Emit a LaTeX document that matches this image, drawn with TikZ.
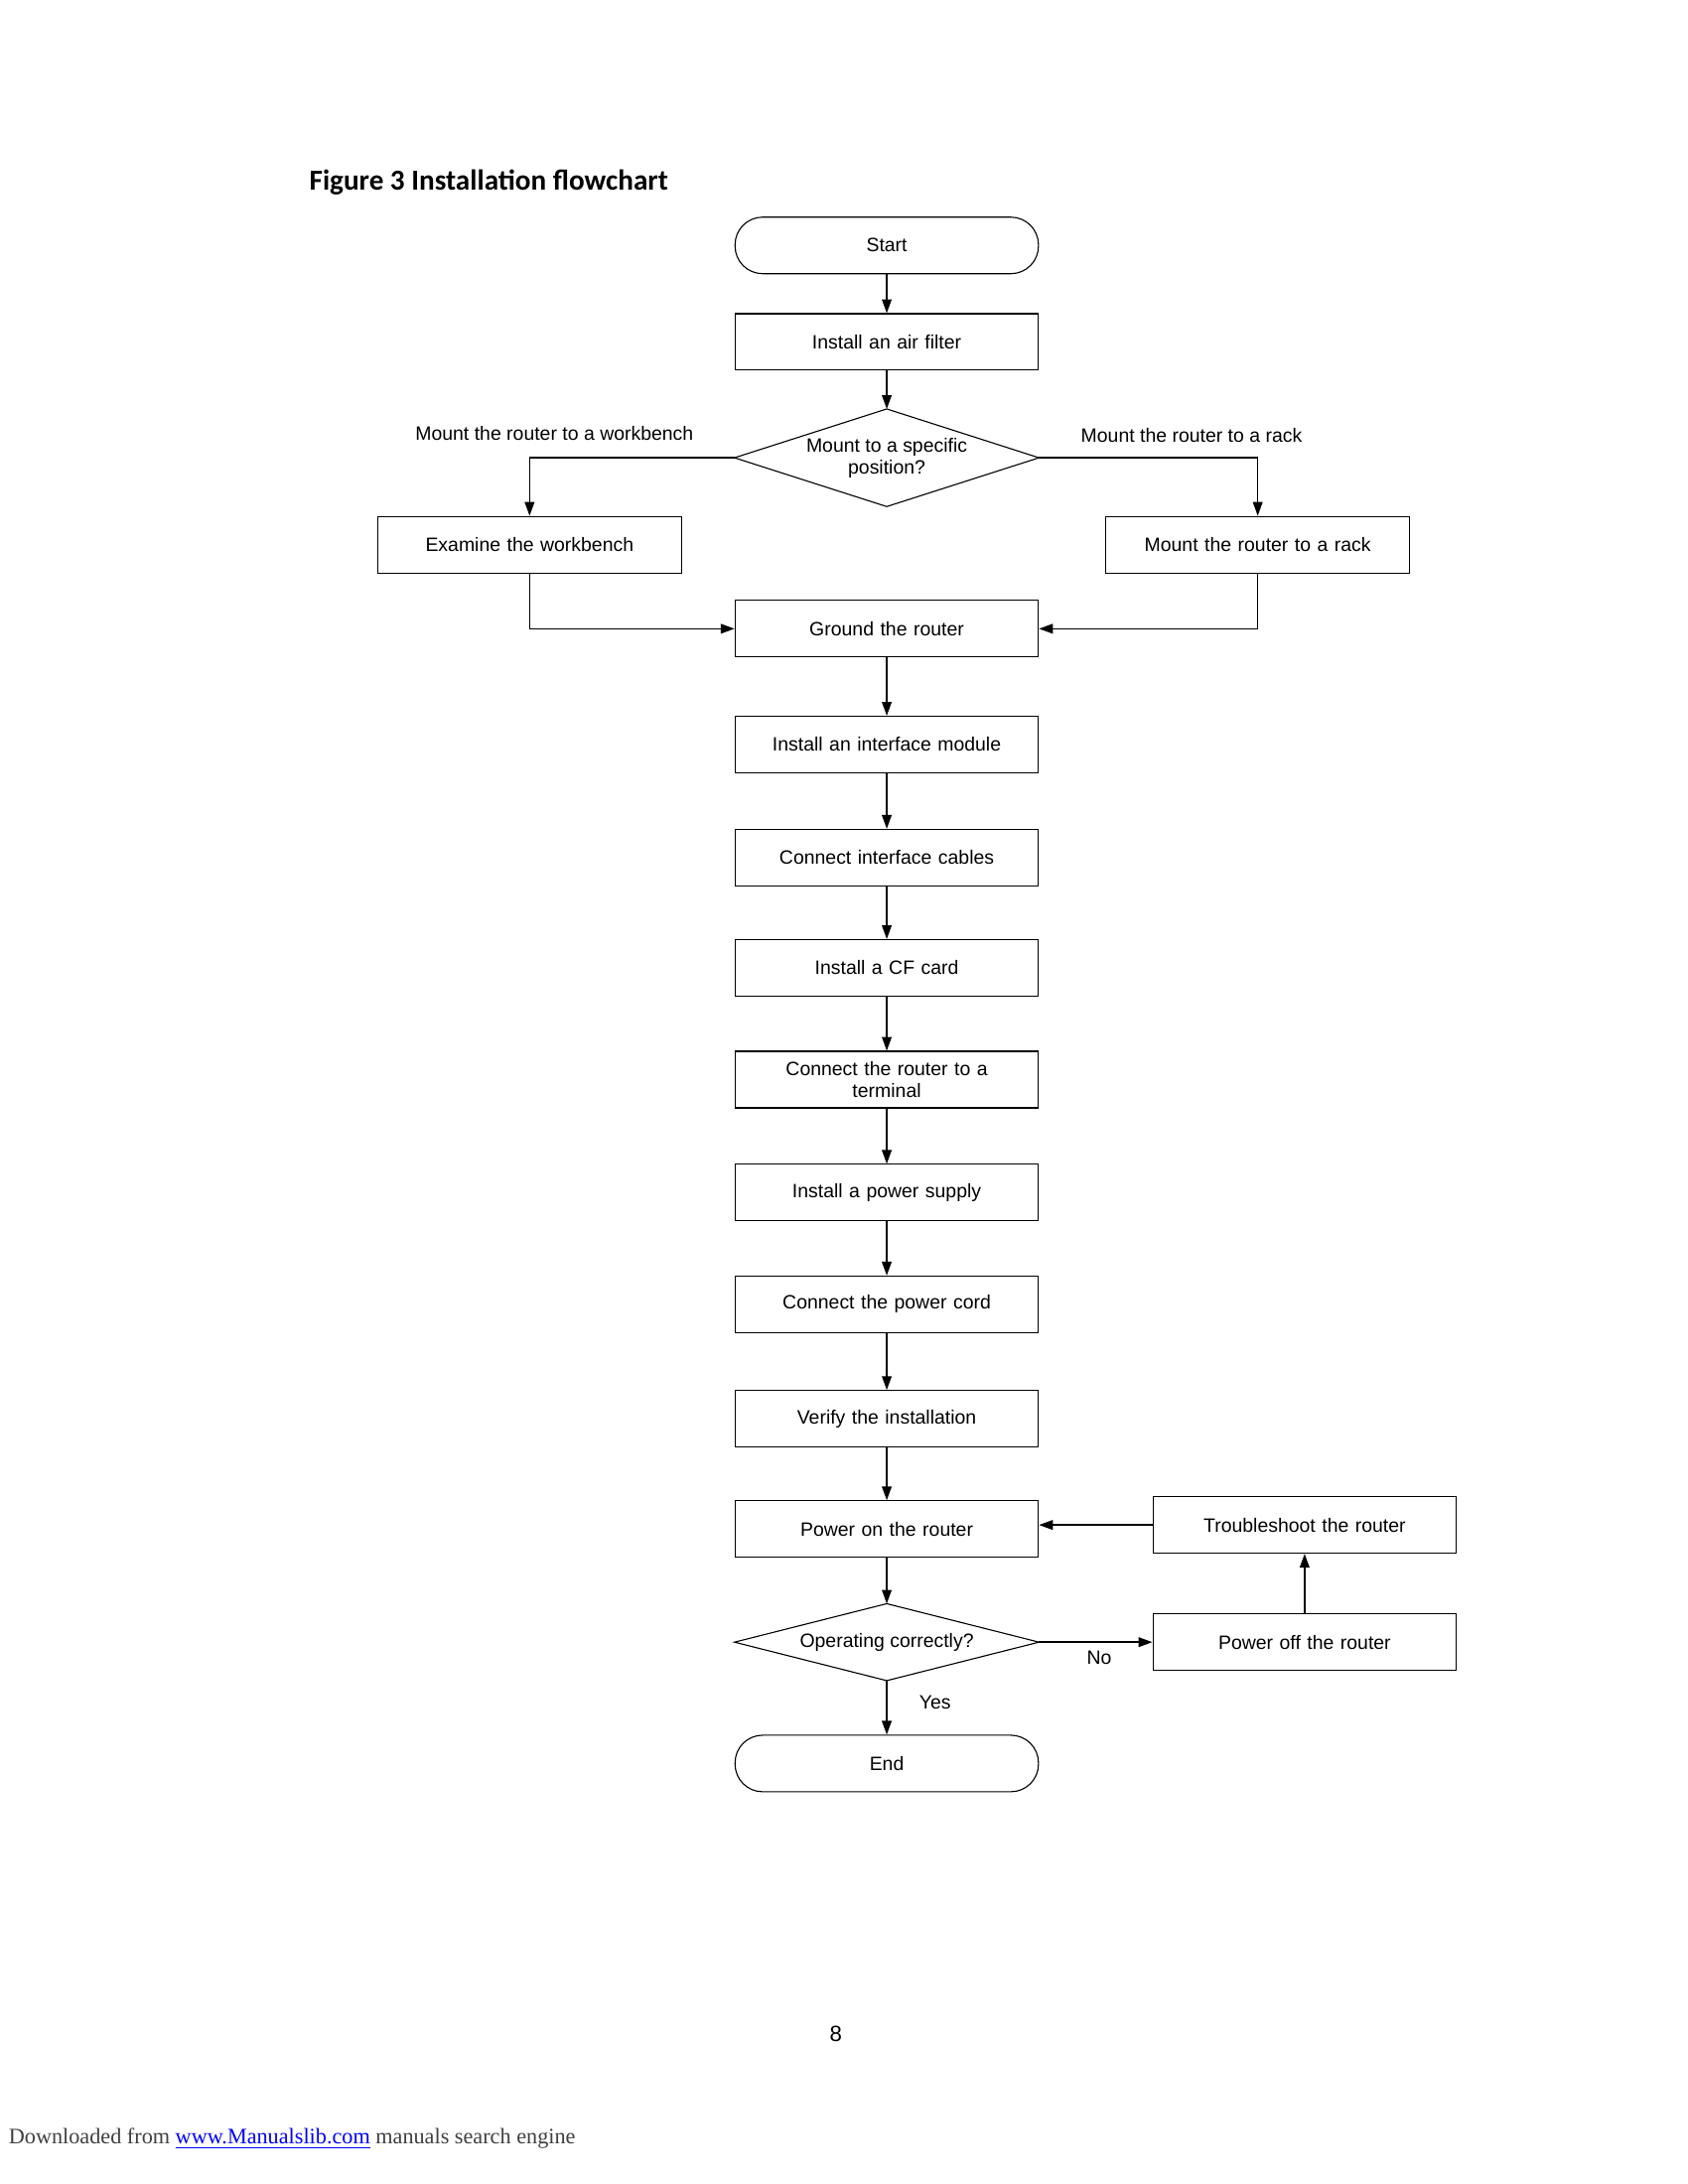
\documentclass[tikz,border=0pt]{standalone}
\usepackage{fontspec}
\setmainfont{Liberation Sans}
\newfontfamily\titlefont{Carlito}
\newfontfamily\footfont{Liberation Serif}
\usetikzlibrary{shapes.geometric,arrows.meta}
\begin{document}
\begin{tikzpicture}[x=0.5pt,y=-0.5pt,
  box/.style={draw,line width=0.4pt,minimum width=110pt,minimum height=20.5pt,inner sep=1pt,font=\fontsize{7}{8}\selectfont,align=center,text width=105pt},
  term/.style={box,rounded corners=10pt},
  dia/.style={inner sep=0pt,minimum width=110pt,font=\fontsize{7}{8}\selectfont,align=center},
  dline/.style={line width=0.4pt},
  lbl/.style={font=\fontsize{7}{8}\selectfont,inner sep=0pt},
  arr/.style={-{Triangle[length=5pt,width=3.5pt]},line width=0.5pt}]
\useasboundingbox (0,0) rectangle (1224,1584);
\node[anchor=west,font=\titlefont\bfseries\fontsize{10.5}{12}\selectfont,inner sep=0pt] (title) at (224,132) {Figure 3 Installation flowchart};
\node[term] (start) at (643,178) {Start};
\node[box] (air) at (643,248) {Install an air filter};
\node[dia,minimum height=35pt] (pos) at (643,332) {Mount to a specific\\position?};
\draw[dline] (pos.west)--(pos.north)--(pos.east)--(pos.south)--cycle;
\node[box] (wb) at (384,395) {Examine the workbench};
\node[box] (rack) at (912,395) {Mount the router to a rack};
\node[box] (gnd) at (643,456) {Ground the router};
\node[box] (ifm) at (643,540) {Install an interface module};
\node[box] (cab) at (643,622) {Connect interface cables};
\node[box] (cf) at (643,702) {Install a CF card};
\node[box] (term) at (643,783) {Connect the router to a\\terminal};
\node[box] (ps) at (643,865) {Install a power supply};
\node[box] (cord) at (643,946) {Connect the power cord};
\node[box] (ver) at (643,1029) {Verify the installation};
\node[box] (pon) at (643,1109) {Power on the router};
\node[dia,minimum height=27.5pt] (ok) at (643,1191) {Operating correctly?};
\draw[dline] (ok.west)--(ok.north)--(ok.east)--(ok.south)--cycle;
\node[term] (end) at (643,1279) {End};
\node[box] (tr) at (946,1106) {Troubleshoot the router};
\node[box] (poff) at (946,1191) {Power off the router};
\node[lbl] (l1) at (402,314) {Mount the router to a workbench};
\node[lbl] (l2) at (864,316) {Mount the router to a rack};
\node[lbl] (no) at (797,1202) {No};
\node[lbl] (yes) at (678,1235) {Yes};
\node[lbl,font=\fontsize{8}{9}\selectfont] (pg) at (606,1475) {8};
\node[anchor=west,inner sep=0pt,font=\footfont\fontsize{8}{9}\selectfont,text=black!75] (foot) at (6,1551) {Downloaded from \textcolor{blue}{\underline{www.Manualslib.com}} manuals search engine};
\draw[arr] (start) -- (air);
\draw[arr] (air) -- (pos.north);
\draw[arr] (pos.west) -| (wb.north);
\draw[arr] (pos.east) -| (rack.north);
\draw[arr] (wb.south) |- (gnd.west);
\draw[arr] (rack.south) |- (gnd.east);
\draw[arr] (gnd) -- (ifm);
\draw[arr] (ifm) -- (cab);
\draw[arr] (cab) -- (cf);
\draw[arr] (cf) -- (term);
\draw[arr] (term) -- (ps);
\draw[arr] (ps) -- (cord);
\draw[arr] (cord) -- (ver);
\draw[arr] (ver) -- (pon);
\draw[arr] (pon) -- (ok.north);
\draw[arr] (ok.south) -- (end);
\draw[arr] (ok.east) -- (poff.west);
\draw[arr] (poff) -- (tr);
\draw[arr] (tr.west) -- (tr.west -| pon.east);
\end{tikzpicture}
\end{document}
